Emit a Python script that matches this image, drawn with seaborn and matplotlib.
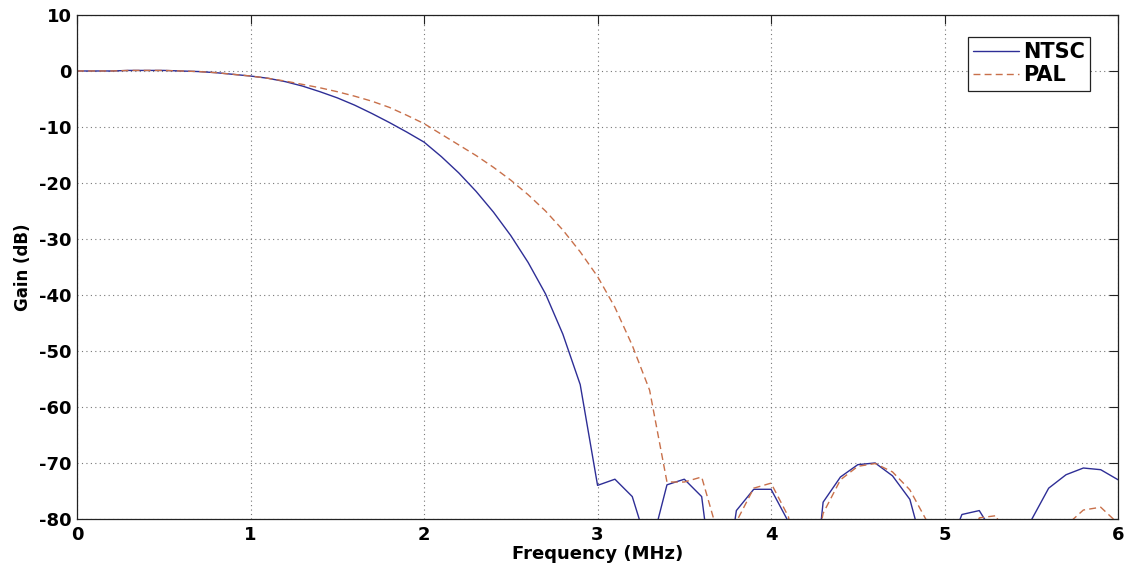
import numpy as np
import pandas as pd
import matplotlib
matplotlib.use("Agg")
import matplotlib.pyplot as plt
import seaborn as sns

# frequency samples (MHz), 0.1 MHz apart
freq = [round(0.1 * i, 1) for i in range(61)]

ntsc_gain = [
    0.0, 0.0, 0.0, 0.1, 0.1, 0.1, 0.0, -0.1, -0.3, -0.6,
    -0.9, -1.3, -1.9, -2.7, -3.7, -4.8, -6.1, -7.6, -9.2, -10.9,
    -12.7, -15.3, -18.2, -21.5, -25.2, -29.4, -34.2, -39.8, -47.0, -56.0,
    -74.0, -72.9, -76.0, -86.0, -73.9, -72.9, -76.0, -100.0, -78.5, -74.7,
    -74.7, -80.5, -107.0, -77.0, -72.5, -70.3, -70.0, -72.3, -76.5, -88.0,
    -87.0, -79.2, -78.5, -83.5, -95.0, -80.2, -74.5, -72.1, -70.9, -71.2,
    -73.0,
]

pal_gain = [
    0.0, 0.0, 0.0, 0.1, 0.1, 0.1, 0.0, -0.1, -0.3, -0.6,
    -0.9, -1.3, -1.8, -2.4, -3.0, -3.7, -4.5, -5.4, -6.5, -7.9,
    -9.4, -11.3, -13.2, -15.1, -17.2, -19.5, -22.1, -25.0, -28.4, -32.3,
    -36.7, -42.2, -49.0, -57.0, -73.4, -73.4, -72.5, -83.3, -80.5, -74.5,
    -73.6, -79.6, -95.0, -79.0, -73.0, -70.6, -70.1, -71.6, -74.8, -80.5,
    -95.0, -90.0, -79.8, -79.4, -92.0, -100.0, -95.0, -81.2, -78.4, -77.9,
    -80.8,
]

df = pd.DataFrame({"freq": freq, "NTSC": ntsc_gain, "PAL": pal_gain})

sns.set_style("white")
plt.rcParams["font.family"] = ["DejaVu Sans"]
plt.rcParams["axes.unicode_minus"] = False
plt.rcParams["text.color"] = "black"
plt.rcParams["axes.labelcolor"] = "black"
plt.rcParams["xtick.color"] = "black"
plt.rcParams["ytick.color"] = "black"

fig = plt.figure(figsize=(11.28, 5.72), dpi=100)
ax = fig.add_axes([0.0683, 0.0927, 0.9229, 0.8811])

sns.lineplot(x="freq", y="NTSC", data=df, ax=ax, color="#2e2e96",
             linewidth=1.0, label="NTSC")
sns.lineplot(x="freq", y="PAL", data=df, ax=ax, color="#c8704a",
             linewidth=1.0, linestyle=(0, (5, 3)), label="PAL")

ax.set_xlim(0, 6)
ax.set_ylim(-80, 10)
ax.set_xticks(range(0, 7))
ax.set_yticks(range(-80, 11, 10))
ax.grid(True, linestyle=(0, (1, 3)), color="#777777", linewidth=0.8)

ax.tick_params(direction="in", length=6.5, width=0.8, top=True, right=True,
               labelsize=13, color="#222222")
ax.tick_params(axis="x", pad=5)
ax.tick_params(axis="y", pad=4)
for lbl in ax.get_xticklabels() + ax.get_yticklabels():
    lbl.set_fontweight("bold")
for side in ax.spines.values():
    side.set_color("#222222")
    side.set_linewidth(0.9)

ax.set_xlabel("Frequency (MHz)", fontsize=13, fontweight="bold", labelpad=1)
ax.set_ylabel("Gain (dB)", fontsize=12, fontweight="bold", labelpad=5)

leg = ax.legend(loc="upper right", bbox_to_anchor=(0.973, 0.956),
                fancybox=False, framealpha=1, edgecolor="#222222",
                prop={"weight": "bold", "size": 15}, handlelength=2.2,
                borderpad=0.25, labelspacing=0.15, handletextpad=0.2,
                borderaxespad=0)
leg.get_frame().set_linewidth(0.9)

fig.savefig("out.png", dpi=100)
